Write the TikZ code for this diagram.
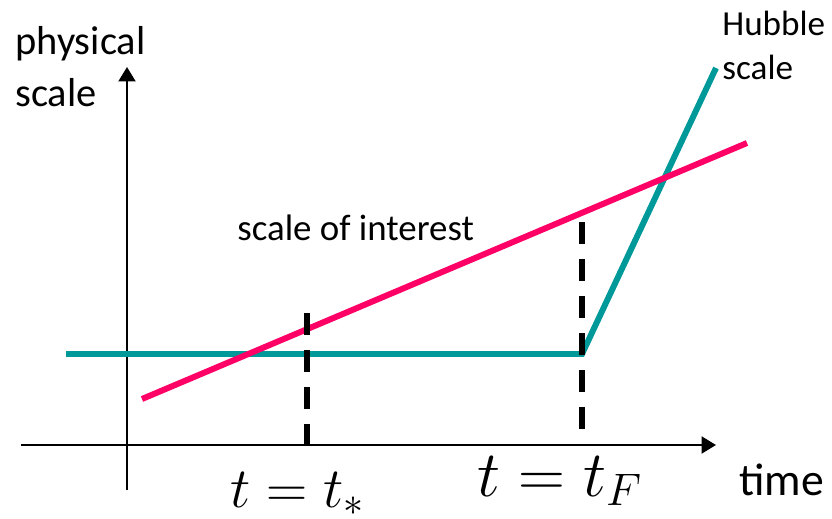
\documentclass[tikz,border=0pt]{standalone}
\usepackage{fix-cm}
\usepackage{fontspec}
\setmainfont{Carlito}
\usetikzlibrary{arrows.meta}
\definecolor{hubteal}{HTML}{009999}
\definecolor{scalepink}{HTML}{FF0066}

\begin{document}
\begin{tikzpicture}[
  x=0.02cm, y=0.02cm,
  >={Triangle[length=2.9mm,width=3.4mm]},
  axis/.style={->, draw=black, line width=1.3pt},
  hubline/.style={draw=hubteal, line width=3.4pt},
  intline/.style={draw=scalepink, line width=3.4pt},
  tmark/.style={draw=black, line width=3.3pt, dash pattern=on 0.44cm off 0.3cm},
  lbl/.style={inner sep=0pt, anchor=base west, align=left},
]
\useasboundingbox (0,0) rectangle (832,518);

% ---- axes ----
\coordinate (ybot)   at (127,28);
\coordinate (ytop)   at (127,451);
\coordinate (xleft)  at (21,73);
\coordinate (xright) at (716,73);
\draw[axis] (ybot) -- (ytop);
\draw[axis] (xleft) -- (xright);

% ---- scales ----
\coordinate (hstart) at (66,164);
\coordinate (hbend)  at (582,164);
\coordinate (hend)   at (716,450);
\coordinate (istart) at (142,119);
\coordinate (iend)   at (747,375);
\draw[hubline] (hstart) -- (hbend) -- (hend);
\draw[intline] (istart) -- (iend);

% ---- time marks ----
\coordinate (sstar) at (307,205);
\coordinate (fstar) at (307,73);
\coordinate (sF)    at (582,296);
\coordinate (fF)    at (582,73);
\draw[tmark] (sstar) -- (fstar);
\draw[tmark] (sF) -- (fF);

% ---- labels (base = last line) ----
\node[lbl, font=\fontsize{23}{29.6}\selectfont] (ylab)   at (15,411)  {physical\\scale};
\node[lbl, font=\fontsize{20}{25.6}\selectfont] (hublab) at (722,438) {Hubble\\scale};
\node[lbl, font=\fontsize{21}{25}\selectfont]   (intlab) at (237,277) {scale of interest};
\node[lbl, font=\fontsize{26}{31}\selectfont]   (xlab)   at (739,23)  {time};
\node[lbl, font=\fontsize{32.5}{40}\selectfont] (tstar)  at (230,11)  {$t=t_*$};
\node[lbl, font=\fontsize{37}{44}\selectfont]   (tF)     at (477,22)  {$t=t_F$};

\end{tikzpicture}
\end{document}
